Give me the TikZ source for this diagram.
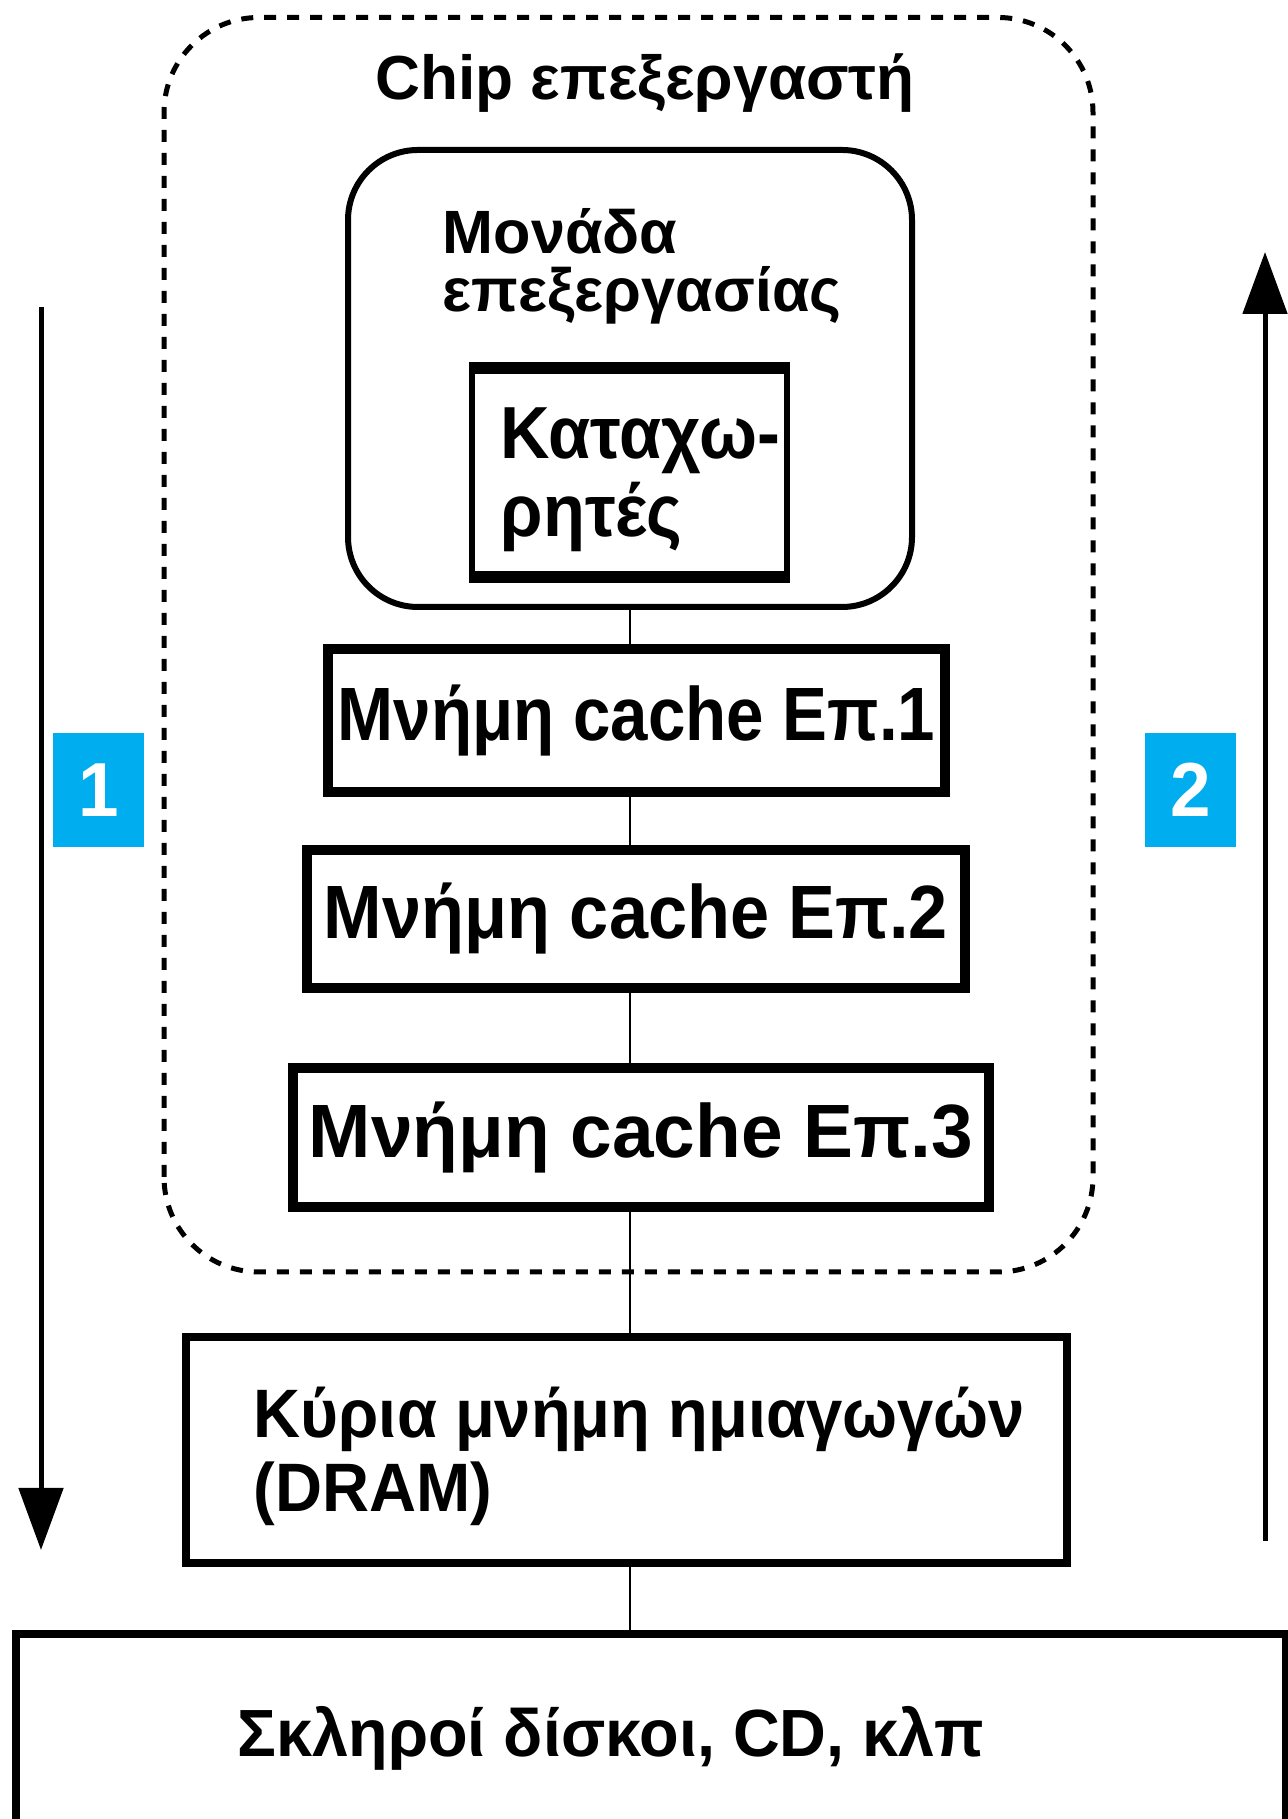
\documentclass[tikz,border=0pt]{standalone}
\usepackage{fontspec}
\newfontfamily\diagfont{Liberation Sans}
\newcommand\stretchedFont[1]{\diagfont\bfseries\addfontfeatures{FakeStretch=#1}}
\usetikzlibrary{arrows.meta}
\definecolor{stepBlue}{RGB}{0,174,239}
\tikzset{chipBorder/.style={line width=0.05cm, dash pattern=on 0.12cm off 0.11cm, rounded corners=0.95cm}}
\tikzset{procUnit/.style={draw, line width=0.06cm, rounded corners=0.7cm, minimum width=5.64cm, minimum height=4.57cm}}
\tikzset{regBox/.style={draw, line width=0.06cm, minimum width=3.15cm, minimum height=2.03cm}}
\tikzset{cacheBox/.style={draw, line width=0.1cm, inner sep=0pt, minimum height=1.43cm}}
\tikzset{memBox/.style={draw, line width=0.08cm, inner sep=0pt}}
\tikzset{boxText/.style={inner sep=0pt, align=left}}
\tikzset{linkLine/.style={line width=0.025cm}}
\tikzset{flowArrow/.style={line width=0.05cm, -{Triangle[length=0.62cm,width=0.44cm]}}}
\tikzset{stepLabel/.style={fill=stepBlue, text=white, inner sep=0pt, minimum width=0.91cm, minimum height=1.14cm, node font={\fontsize{21.8}{24}\stretchedFont{0.95}}}}

\begin{document}
\begin{tikzpicture}
\useasboundingbox (0,0) rectangle (12.88,18.19);
\clip (0,0) rectangle (12.88,18.19);

% processor chip
\draw[chipBorder] (1.64,5.47) rectangle (10.93,18.015);
\node[boxText, anchor=base, node font={\fontsize{17.7}{20}\stretchedFont{1.0}}] (chipTitle) at (6.45,17.19) {Chip επεξεργαστή};

% processing unit with registers
\node[procUnit] (unit) at (6.30,14.405) {};
\node[boxText, anchor=base west, node font={\fontsize{17.4}{16.5}\stretchedFont{1.0}}] (unitText) at (4.42,15.07) {Μονάδα\\επεξεργασίας};
\node[regBox] (registers) at (6.295,13.465) {};
\draw[line width=0.12cm] (registers.north west) -- (registers.north east);
\draw[line width=0.12cm] (registers.south west) -- (registers.south east);
\node[boxText, anchor=base west, node font={\fontsize{21}{22.2}\stretchedFont{0.93}}] (regText) at (5.00,12.82) {Καταχω-\\ρητές};

% cache levels
\node[cacheBox, minimum width=6.17cm, node font={\fontsize{21.5}{24}\stretchedFont{0.89}}] (cacheOne) at (6.365,10.985) {Μνήμη cache Επ.1};
\node[cacheBox, minimum width=6.58cm, minimum height=1.38cm, node font={\fontsize{21.5}{24}\stretchedFont{0.93}}] (cacheTwo) at (6.36,9.00) {Μνήμη cache Επ.2};
\node[cacheBox, minimum width=6.96cm, minimum height=1.39cm, node font={\fontsize{21.5}{24}\stretchedFont{0.99}}] (cacheThree) at (6.41,6.815) {Μνήμη cache Επ.3};

% main memory and disks
\node[memBox, minimum width=8.81cm, minimum height=2.26cm] (dram) at (6.265,3.69) {};
\node[boxText, anchor=base west, node font={\fontsize{19.5}{21.3}\stretchedFont{0.95}}] (dramText) at (2.53,3.07) {Κύρια μνήμη ημιαγωγών\\(DRAM)};
\node[memBox, minimum width=12.70cm, minimum height=2.06cm] (disks) at (6.51,0.82) {};
\node[boxText, anchor=base, node font={\fontsize{19}{21}\stretchedFont{0.97}}] (diskText) at (6.11,0.62) {Σκληροί δίσκοι, CD, κλπ};

% links
\draw[linkLine] (unit.south) -- (unit.south |- cacheOne.north);
\draw[linkLine] (unit.south |- cacheOne.south) -- (unit.south |- cacheTwo.north);
\draw[linkLine] (unit.south |- cacheTwo.south) -- (unit.south |- cacheThree.north);
\draw[linkLine] (unit.south |- cacheThree.south) -- (unit.south |- dram.north);
\draw[linkLine] (unit.south |- dram.south) -- (unit.south |- disks.north);

% direction arrows
\coordinate (downStart) at (0.41,15.12);
\coordinate (downEnd) at (0.41,2.69);
\draw[flowArrow] (downStart) -- (downEnd);
\coordinate (upStart) at (12.65,2.78);
\coordinate (upEnd) at (12.65,15.67);
\draw[flowArrow] (upStart) -- (upEnd);
\node[stepLabel] (stepOne) at (0.985,10.29) {1};
\node[stepLabel] (stepTwo) at (11.905,10.29) {2};
\end{tikzpicture}
\end{document}
